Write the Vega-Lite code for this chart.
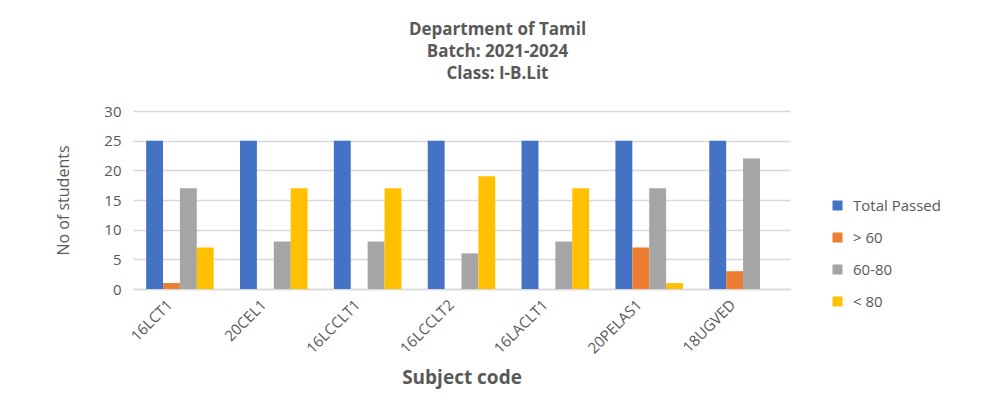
{
  "$schema": "https://vega.github.io/schema/vega-lite/v6.json",
  "autosize": {"type": "none"},
  "padding": {"left": 133, "top": 111, "right": 205, "bottom": 125},
  "width": 657,
  "height": 178,
  "background": "white",
  "title": {
    "text": ["Department of Tamil", "Batch: 2021-2024", "Class: I-B.Lit"],
    "font": "Open Sans",
    "fontSize": 17,
    "fontWeight": "bold",
    "color": "#595959",
    "anchor": "middle",
    "dx": 36,
    "offset": 21,
    "lineHeight": 22
  },
  "data": {
    "values": [
      {"subject": "16LCT1", "series": "Total Passed", "count": 25},
      {"subject": "16LCT1", "series": "> 60", "count": 1},
      {"subject": "16LCT1", "series": "60-80", "count": 17},
      {"subject": "16LCT1", "series": "< 80", "count": 7},
      {"subject": "20CEL1", "series": "Total Passed", "count": 25},
      {"subject": "20CEL1", "series": "> 60", "count": 0},
      {"subject": "20CEL1", "series": "60-80", "count": 8},
      {"subject": "20CEL1", "series": "< 80", "count": 17},
      {"subject": "16LCCLT1", "series": "Total Passed", "count": 25},
      {"subject": "16LCCLT1", "series": "> 60", "count": 0},
      {"subject": "16LCCLT1", "series": "60-80", "count": 8},
      {"subject": "16LCCLT1", "series": "< 80", "count": 17},
      {"subject": "16LCCLT2", "series": "Total Passed", "count": 25},
      {"subject": "16LCCLT2", "series": "> 60", "count": 0},
      {"subject": "16LCCLT2", "series": "60-80", "count": 6},
      {"subject": "16LCCLT2", "series": "< 80", "count": 19},
      {"subject": "16LACLT1", "series": "Total Passed", "count": 25},
      {"subject": "16LACLT1", "series": "> 60", "count": 0},
      {"subject": "16LACLT1", "series": "60-80", "count": 8},
      {"subject": "16LACLT1", "series": "< 80", "count": 17},
      {"subject": "20PELAS1", "series": "Total Passed", "count": 25},
      {"subject": "20PELAS1", "series": "> 60", "count": 7},
      {"subject": "20PELAS1", "series": "60-80", "count": 17},
      {"subject": "20PELAS1", "series": "< 80", "count": 1},
      {"subject": "18UGVED", "series": "Total Passed", "count": 25},
      {"subject": "18UGVED", "series": "> 60", "count": 3},
      {"subject": "18UGVED", "series": "60-80", "count": 22},
      {"subject": "18UGVED", "series": "< 80", "count": 0}
    ]
  },
  "mark": {"type": "bar"},
  "encoding": {
    "x": {
      "field": "subject",
      "type": "nominal",
      "sort": null,
      "scale": {"paddingInner": 0.28, "paddingOuter": 0.14},
      "axis": {
        "title": "Subject code",
        "titleFont": "Open Sans",
        "titleFontSize": 19,
        "titleFontWeight": "bold",
        "titleColor": "#595959",
        "titlePadding": 12,
        "labelAngle": -45,
        "labelFont": "Open Sans",
        "labelFontSize": 15,
        "labelColor": "#595959",
        "labelPadding": 8,
        "labelOffset": -15,
        "ticks": false,
        "domainColor": "#d9d9d9",
        "domainWidth": 1.5
      }
    },
    "xOffset": {
      "field": "series",
      "type": "nominal",
      "sort": ["Total Passed", "> 60", "60-80", "< 80"],
      "scale": {"paddingInner": 0, "paddingOuter": 0}
    },
    "y": {
      "field": "count",
      "type": "quantitative",
      "scale": {"domain": [0, 30]},
      "axis": {
        "title": "No of students",
        "titleFont": "Open Sans",
        "titleFontSize": 16,
        "titleFontWeight": "normal",
        "titleColor": "#595959",
        "titlePadding": 32,
        "values": [0, 5, 10, 15, 20, 25, 30],
        "labelFont": "Open Sans",
        "labelFontSize": 15,
        "labelColor": "#595959",
        "labelPadding": 12,
        "ticks": false,
        "domain": false,
        "gridColor": "#d9d9d9",
        "gridWidth": 1.5
      }
    },
    "color": {
      "field": "series",
      "type": "nominal",
      "sort": ["Total Passed", "> 60", "60-80", "< 80"],
      "scale": {
        "domain": ["Total Passed", "> 60", "60-80", "< 80"],
        "range": ["#4472c4", "#ed7d31", "#a5a5a5", "#ffc000"]
      },
      "legend": {
        "title": null,
        "orient": "none",
        "legendX": 697,
        "legendY": 87,
        "symbolType": "square",
        "symbolSize": 100,
        "symbolStrokeWidth": 0,
        "labelFont": "Open Sans",
        "labelFontSize": 15,
        "labelColor": "#595959",
        "labelOffset": 8,
        "rowPadding": 16
      }
    }
  },
  "config": {"view": {"stroke": null}}
}
